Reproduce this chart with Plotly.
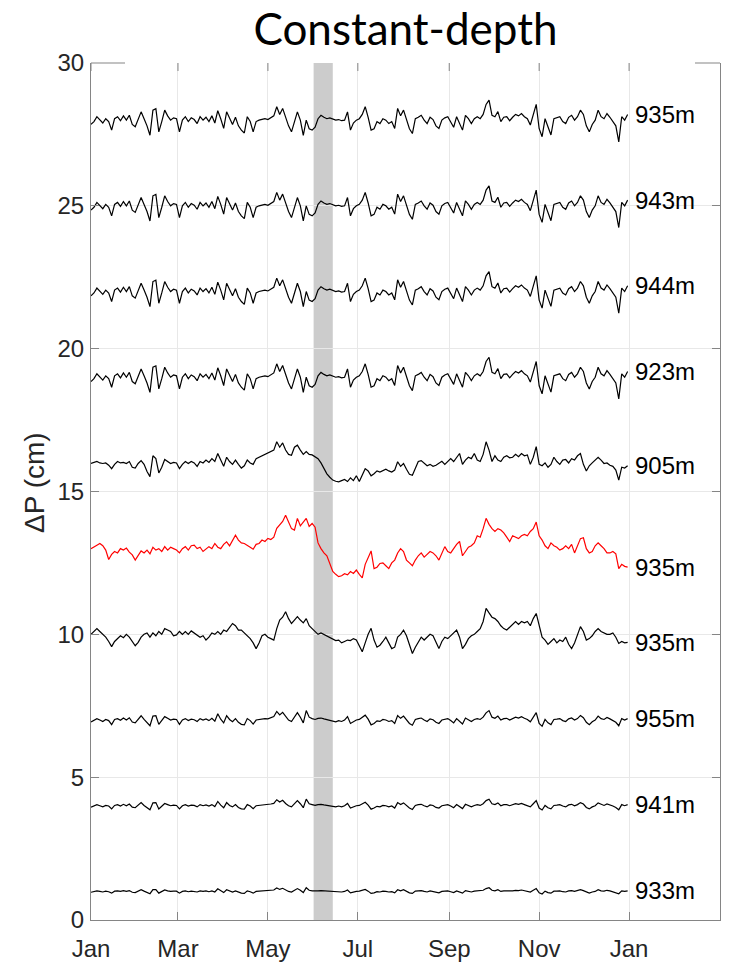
import datetime as dt
import plotly.graph_objects as go

# ---------------- data (deviations in cm, sampled every 2 days from 1 Jan) ----------------
station_labels = ["935m", "943m", "944m", "923m", "905m", "935m", "935m", "955m", "941m", "933m"]
offsets = [28, 25, 22, 19, 16, 13, 10, 7, 4, 1]

dev_935_top = [-0.15,-0.05,0.12,0.00,-0.10,0.05,-0.05,-0.35,0.05,0.12,
 -0.02,0.15,0.00,0.17,-0.15,-0.23,0.00,0.29,0.05,-0.20,
 -0.53,0.35,0.40,-0.41,-0.05,0.35,0.15,0.00,0.08,0.05,
 -0.41,0.00,0.12,-0.05,0.08,0.02,-0.12,0.12,0.00,0.10,
 -0.05,0.15,-0.10,0.33,0.05,-0.29,0.29,0.05,-0.15,0.10,
 -0.20,-0.35,-0.45,0.12,-0.05,-0.41,-0.05,0.00,0.02,0.05,
 0.02,0.08,0.15,0.47,0.20,0.41,0.10,-0.20,-0.41,-0.10,
 0.29,0.00,-0.53,0.00,-0.30,-0.35,-0.25,0.05,0.17,0.10,
 0.05,0.08,0.05,0.00,0.02,-0.02,0.00,0.29,-0.35,-0.10,
 0.00,0.05,0.20,0.47,0.10,-0.35,-0.30,-0.05,-0.12,0.05,
 0.00,-0.12,-0.05,-0.29,0.41,0.15,0.35,0.00,-0.30,-0.47,
 0.05,0.10,0.17,0.00,-0.12,0.10,0.02,-0.20,-0.29,0.00,
 0.08,0.12,-0.05,-0.25,0.12,-0.10,-0.35,0.17,0.05,-0.12,
 0.05,0.12,0.05,0.20,0.55,0.70,0.17,0.12,0.30,-0.05,
 0.10,0.12,-0.02,0.10,0.20,0.15,0.23,0.12,0.05,-0.17,
 0.20,0.55,-0.30,-0.58,0.05,-0.25,-0.52,0.05,0.08,0.12,
 -0.05,-0.12,0.10,0.17,0.00,0.12,0.35,0.20,-0.20,-0.41,
 -0.15,0.00,0.35,0.12,0.05,0.23,0.10,-0.05,-0.20,-0.76,
 0.12,0.00,0.20]

dev_943 = [-0.15,-0.05,0.12,0.00,-0.10,0.05,-0.05,-0.35,0.05,0.12,
 -0.02,0.15,0.00,0.17,-0.15,-0.23,0.00,0.29,0.05,-0.20,
 -0.53,0.35,0.40,-0.41,-0.05,0.35,0.15,0.00,0.08,0.05,
 -0.41,0.00,0.12,-0.05,0.08,0.02,-0.12,0.12,0.00,0.10,
 -0.05,0.15,-0.10,0.33,0.05,-0.29,0.29,0.05,-0.15,0.10,
 -0.20,-0.35,-0.45,0.12,-0.05,-0.41,-0.05,0.00,0.02,0.05,
 0.02,0.08,0.15,0.47,0.20,0.41,0.10,-0.20,-0.41,-0.10,
 0.29,0.00,-0.53,0.00,-0.30,-0.35,-0.25,0.05,0.17,0.10,
 0.05,0.08,0.05,0.00,0.02,-0.02,0.00,0.29,-0.35,-0.10,
 0.00,0.05,0.20,0.47,0.10,-0.35,-0.30,-0.05,-0.12,0.05,
 0.00,-0.12,-0.05,-0.29,0.41,0.15,0.35,0.00,-0.30,-0.47,
 0.05,0.10,0.17,0.00,-0.12,0.10,0.02,-0.20,-0.29,0.00,
 0.08,0.12,-0.05,-0.25,0.12,-0.10,-0.35,0.17,0.05,-0.12,
 0.05,0.12,0.05,0.20,0.55,0.70,0.17,0.12,0.30,-0.05,
 0.10,0.12,-0.02,0.10,0.20,0.15,0.23,0.12,0.05,-0.17,
 0.20,0.55,-0.30,-0.58,0.05,-0.25,-0.52,0.05,0.08,0.12,
 -0.05,-0.12,0.10,0.17,0.00,0.12,0.35,0.20,-0.20,-0.41,
 -0.15,0.00,0.35,0.12,0.05,0.23,0.10,-0.05,-0.20,-0.76,
 0.12,0.00,0.20]

dev_944 = [-0.15,-0.05,0.12,0.00,-0.10,0.05,-0.05,-0.35,0.05,0.12,
 -0.02,0.15,0.00,0.17,-0.15,-0.23,0.00,0.29,0.05,-0.20,
 -0.53,0.35,0.40,-0.41,-0.05,0.35,0.15,0.00,0.08,0.05,
 -0.41,0.00,0.12,-0.05,0.08,0.02,-0.12,0.12,0.00,0.10,
 -0.05,0.15,-0.10,0.33,0.05,-0.29,0.29,0.05,-0.15,0.10,
 -0.20,-0.35,-0.45,0.12,-0.05,-0.41,-0.05,0.00,0.02,0.05,
 0.02,0.08,0.15,0.47,0.20,0.41,0.10,-0.20,-0.41,-0.10,
 0.29,0.00,-0.53,0.00,-0.30,-0.35,-0.25,0.05,0.17,0.10,
 0.05,0.08,0.05,0.00,0.02,-0.02,0.00,0.29,-0.35,-0.10,
 0.00,0.05,0.20,0.47,0.10,-0.35,-0.30,-0.05,-0.12,0.05,
 0.00,-0.12,-0.05,-0.29,0.41,0.15,0.35,0.00,-0.30,-0.47,
 0.05,0.10,0.17,0.00,-0.12,0.10,0.02,-0.20,-0.29,0.00,
 0.08,0.12,-0.05,-0.25,0.12,-0.10,-0.35,0.17,0.05,-0.12,
 0.05,0.12,0.05,0.20,0.55,0.70,0.17,0.12,0.30,-0.05,
 0.10,0.12,-0.02,0.10,0.20,0.15,0.23,0.12,0.05,-0.17,
 0.20,0.55,-0.30,-0.58,0.05,-0.25,-0.52,0.05,0.08,0.12,
 -0.05,-0.12,0.10,0.17,0.00,0.12,0.35,0.20,-0.20,-0.41,
 -0.15,0.00,0.35,0.12,0.05,0.23,0.10,-0.05,-0.20,-0.76,
 0.12,0.00,0.20]

dev_923 = [-0.15,-0.05,0.12,0.00,-0.10,0.05,-0.05,-0.35,0.05,0.12,
 -0.02,0.15,0.00,0.17,-0.15,-0.23,0.00,0.29,0.05,-0.20,
 -0.53,0.35,0.40,-0.41,-0.05,0.35,0.15,0.00,0.08,0.05,
 -0.41,0.00,0.12,-0.05,0.08,0.02,-0.12,0.12,0.00,0.10,
 -0.05,0.15,-0.10,0.33,0.05,-0.29,0.29,0.05,-0.15,0.10,
 -0.20,-0.35,-0.45,0.12,-0.05,-0.41,-0.05,0.00,0.02,0.05,
 0.02,0.08,0.15,0.47,0.20,0.41,0.10,-0.20,-0.41,-0.10,
 0.29,0.00,-0.53,0.00,-0.30,-0.35,-0.25,0.05,0.17,0.10,
 0.05,0.08,0.05,0.00,0.02,-0.02,0.00,0.29,-0.35,-0.10,
 0.00,0.05,0.20,0.47,0.10,-0.35,-0.30,-0.05,-0.12,0.05,
 0.00,-0.12,-0.05,-0.29,0.41,0.15,0.35,0.00,-0.30,-0.47,
 0.05,0.10,0.17,0.00,-0.12,0.10,0.02,-0.20,-0.29,0.00,
 0.08,0.12,-0.05,-0.25,0.12,-0.10,-0.35,0.17,0.05,-0.12,
 0.05,0.12,0.05,0.20,0.55,0.70,0.17,0.12,0.30,-0.05,
 0.10,0.12,-0.02,0.10,0.20,0.15,0.23,0.12,0.05,-0.17,
 0.20,0.55,-0.30,-0.58,0.05,-0.25,-0.52,0.05,0.08,0.12,
 -0.05,-0.12,0.10,0.17,0.00,0.12,0.35,0.20,-0.20,-0.41,
 -0.15,0.00,0.35,0.12,0.05,0.23,0.10,-0.05,-0.20,-0.76,
 0.12,0.00,0.20]

dev_905 = [-0.02,0.02,0.05,0.0,-0.02,0.0,-0.08,-0.2,-0.05,0.05,
 0.0,0.02,-0.02,0.05,-0.15,-0.18,-0.02,0.08,-0.05,-0.3,
 -0.48,0.25,0.15,-0.35,-0.15,0.12,0.05,-0.02,0.02,0.0,
 -0.2,-0.05,0.05,-0.02,0.05,0.0,-0.12,0.05,0.0,0.1,
 0.02,0.15,0.05,0.33,0.1,-0.12,0.2,0.05,-0.05,0.1,
 -0.05,-0.18,-0.1,0.1,0.0,-0.05,0.15,0.2,0.25,0.3,
 0.35,0.4,0.45,0.74,0.55,0.7,0.45,0.3,0.27,0.55,
 0.62,0.45,0.3,0.4,0.3,0.28,0.2,0.15,0.0,-0.2,
 -0.38,-0.5,-0.6,-0.64,-0.66,-0.62,-0.58,-0.65,-0.52,-0.62,
 -0.45,-0.65,-0.45,-0.2,-0.28,-0.45,-0.38,-0.28,-0.32,-0.28,
 -0.22,-0.28,-0.32,-0.25,0.04,-0.12,-0.02,-0.22,-0.4,-0.43,
 -0.2,0.05,0.08,-0.02,-0.1,-0.05,-0.12,-0.08,0.0,0.06,
 -0.05,0.05,0.15,0.05,0.2,0.33,-0.05,0.1,0.2,0.15,
 0.33,0.1,0.05,0.3,0.74,0.45,0.05,0.25,0.1,0.05,
 0.2,0.25,0.18,0.2,0.3,0.22,0.33,0.25,0.28,-0.05,
 0.2,0.57,-0.05,-0.1,0.0,-0.15,-0.05,0.2,0.05,-0.05,
 0.1,0.12,0.0,0.15,0.1,0.25,0.33,-0.05,-0.28,-0.1,
 0.0,0.1,0.2,0.1,-0.02,0.0,-0.08,-0.12,-0.25,-0.6,
 -0.15,-0.18,-0.1]

dev_935_red = [0.0,0.05,0.12,0.18,0.1,-0.05,-0.38,-0.2,-0.1,-0.15,
 0.0,-0.05,0.02,-0.12,-0.22,-0.4,-0.25,-0.08,-0.15,-0.05,
 -0.18,0.05,-0.05,0.0,-0.1,0.07,-0.05,0.05,0.0,-0.05,
 -0.15,0.0,0.07,-0.05,0.1,0.12,0.0,0.05,-0.1,0.0,
 0.07,0.0,0.18,0.05,0.0,0.15,0.24,0.1,0.3,0.47,
 0.3,0.2,0.18,0.1,0.05,-0.02,0.15,0.18,0.3,0.25,
 0.36,0.32,0.4,0.71,0.85,0.95,1.17,0.9,0.7,0.65,
 1.06,0.8,0.95,1.06,0.78,0.88,0.75,0.2,0.0,-0.15,
 -0.25,-0.55,-0.8,-0.9,-0.98,-0.95,-0.88,-0.92,-0.8,-0.87,
 -0.75,-0.9,-1.02,-0.55,-0.3,-0.08,-0.7,-0.65,-0.52,-0.5,
 -0.6,-0.7,-0.5,-0.4,-0.15,0.0,-0.1,-0.4,-0.5,-0.6,
 -0.4,-0.25,-0.15,-0.3,-0.2,-0.1,-0.15,-0.25,-0.4,-0.15,
 0.07,-0.1,-0.15,0.0,0.15,0.25,-0.25,-0.1,0.05,0.1,
 0.2,0.45,0.4,0.7,1.06,0.85,0.7,0.6,0.7,0.65,
 0.55,0.4,0.25,0.45,0.4,0.35,0.45,0.5,0.45,0.6,
 0.7,0.93,0.45,0.3,0.1,0.0,0.2,0.1,0.05,-0.05,
 0.0,0.1,0.0,0.15,-0.15,0.1,0.35,0.38,0.0,-0.15,
 -0.1,0.1,0.2,0.1,0.0,-0.15,-0.15,-0.1,-0.18,-0.7,
 -0.55,-0.62,-0.65]

dev_935_black = [0.0,0.1,0.2,0.1,0.0,-0.1,-0.25,-0.43,-0.25,-0.15,
 -0.05,-0.12,0.0,-0.1,-0.25,-0.4,-0.28,-0.1,0.0,0.05,
 -0.1,0.05,-0.05,0.1,0.0,0.2,0.15,0.1,-0.05,-0.02,
 0.1,0.0,0.1,0.0,0.12,0.05,0.0,-0.1,-0.05,-0.2,
 -0.1,0.05,0.0,0.1,0.0,0.15,0.1,0.25,0.38,0.3,
 0.15,0.15,0.05,-0.05,-0.15,-0.3,-0.5,-0.3,-0.05,0.0,
 -0.1,-0.15,-0.2,0.2,0.5,0.6,0.79,0.55,0.38,0.5,
 0.62,0.5,0.4,0.55,0.3,0.2,0.1,0.0,0.05,0.0,
 -0.05,-0.1,-0.15,-0.22,-0.2,-0.3,-0.25,-0.2,-0.22,-0.15,
 -0.2,-0.4,-0.61,-0.3,0.0,0.21,-0.2,-0.45,-0.38,-0.25,
 -0.1,-0.3,-0.5,-0.45,-0.1,0.0,0.15,-0.05,-0.4,-0.67,
 -0.45,-0.25,-0.1,-0.2,-0.1,0.0,-0.05,-0.25,-0.5,-0.25,
 -0.1,-0.15,-0.05,0.05,0.15,-0.1,-0.5,-0.35,-0.15,-0.05,
 0.0,0.1,0.2,0.45,0.91,0.75,0.6,0.55,0.45,0.3,
 0.2,0.15,0.25,0.35,0.45,0.35,0.45,0.4,0.45,0.3,
 0.55,0.73,0.3,-0.1,-0.2,-0.35,-0.25,-0.15,-0.3,-0.2,
 -0.25,-0.1,-0.35,-0.5,-0.3,0.0,0.27,0.1,-0.2,-0.15,
 -0.05,0.1,0.2,0.1,0.05,0.0,0.0,0.05,-0.1,-0.32,
 -0.25,-0.3,-0.28]

dev_955 = [-0.07,-0.02,0.05,0.00,-0.05,0.02,-0.02,-0.16,0.02,0.05,
 -0.01,0.07,0.00,0.08,-0.07,-0.10,0.02,0.15,0.02,-0.09,
 -0.20,0.14,0.15,-0.15,0.00,0.12,0.06,0.00,0.03,0.02,
 -0.15,0.00,0.05,-0.02,0.03,0.01,-0.05,0.05,0.00,0.04,
 -0.02,0.06,-0.04,0.22,0.03,-0.10,0.15,0.02,-0.06,0.05,
 -0.08,-0.15,-0.17,0.05,-0.02,-0.14,0.00,0.02,0.03,0.05,
 0.04,0.08,0.12,0.30,0.18,0.27,0.12,0.00,-0.05,0.12,
 0.26,0.10,-0.10,0.33,0.10,0.05,0.02,0.06,0.07,0.04,
 0.02,0.00,-0.03,-0.06,-0.02,-0.05,0.00,0.12,-0.12,-0.05,
 0.00,0.02,0.08,0.17,0.03,-0.17,-0.12,-0.03,-0.05,0.02,
 0.00,-0.05,-0.02,-0.12,0.16,0.06,0.14,0.00,-0.12,-0.18,
 0.02,0.05,0.07,0.00,-0.05,0.04,0.01,-0.08,-0.12,0.00,
 0.03,0.05,-0.02,-0.10,0.05,-0.04,-0.14,0.07,0.02,-0.05,
 0.02,0.05,0.02,0.10,0.25,0.33,0.10,0.06,0.14,0.00,
 0.05,0.06,0.00,0.05,0.10,0.07,0.12,0.06,0.02,-0.06,
 0.10,0.26,-0.12,-0.22,0.02,-0.10,-0.16,0.02,0.03,0.05,
 -0.02,-0.05,0.04,0.07,0.00,0.05,0.16,0.08,-0.08,-0.16,
 -0.06,0.00,0.14,0.05,0.02,0.09,0.04,-0.02,-0.08,-0.20,
 0.05,0.00,0.05]

dev_941 = [-0.05,-0.01,0.04,0.00,-0.04,0.01,-0.01,-0.11,0.01,0.04,
 -0.01,0.05,0.00,0.06,-0.05,-0.07,0.01,0.11,0.01,-0.06,
 -0.14,0.10,0.11,-0.11,0.00,0.08,0.04,0.00,0.02,0.01,
 -0.11,0.00,0.04,-0.01,0.02,0.01,-0.04,0.04,0.00,0.03,
 -0.01,0.04,-0.03,0.15,0.02,-0.07,0.11,0.01,-0.04,0.04,
 -0.06,-0.11,-0.12,0.04,-0.01,-0.10,0.00,0.01,0.02,0.04,
 0.03,0.06,0.08,0.21,0.13,0.19,0.08,0.00,-0.04,0.08,
 0.18,0.07,-0.07,0.23,0.07,0.04,0.01,0.04,0.05,0.03,
 0.01,0.00,-0.02,-0.04,-0.01,-0.04,0.00,0.08,-0.08,-0.04,
 0.00,0.01,0.06,0.12,0.02,-0.12,-0.08,-0.02,-0.04,0.01,
 0.00,-0.04,-0.01,-0.08,0.11,0.04,0.10,0.00,-0.08,-0.13,
 0.01,0.04,0.05,0.00,-0.04,0.03,0.01,-0.06,-0.08,0.00,
 0.02,0.04,-0.01,-0.07,0.04,-0.03,-0.10,0.05,0.01,-0.04,
 0.01,0.04,0.01,0.07,0.18,0.23,0.07,0.04,0.10,0.00,
 0.04,0.04,0.00,0.04,0.07,0.05,0.08,0.04,0.01,-0.04,
 0.07,0.18,-0.08,-0.15,0.01,-0.07,-0.11,0.01,0.02,0.04,
 -0.01,-0.04,0.03,0.05,0.00,0.04,0.11,0.06,-0.06,-0.11,
 -0.04,0.00,0.10,0.04,0.01,0.06,0.03,-0.01,-0.06,-0.14,
 0.04,0.00,0.04]

dev_933 = [-0.03,-0.01,0.02,0.00,-0.02,0.01,-0.01,-0.06,0.01,0.02,
 0.00,0.03,0.00,0.03,-0.03,-0.04,0.01,0.06,0.01,-0.04,
 -0.08,0.06,0.06,-0.06,0.00,0.05,0.02,0.00,0.01,0.01,
 -0.06,0.00,0.02,-0.01,0.01,0.00,-0.02,0.02,0.00,0.02,
 -0.01,0.02,-0.02,0.09,0.01,-0.04,0.06,0.01,-0.02,0.02,
 -0.03,-0.06,-0.07,0.02,-0.01,-0.06,0.00,0.01,0.01,0.02,
 0.02,0.03,0.05,0.12,0.07,0.11,0.05,0.00,-0.02,0.05,
 0.10,0.04,-0.04,0.13,0.04,0.02,0.01,0.02,0.03,0.02,
 0.01,0.00,-0.01,-0.02,-0.01,-0.02,0.00,0.05,-0.05,-0.02,
 0.00,0.01,0.03,0.07,0.01,-0.07,-0.05,-0.01,-0.02,0.01,
 0.00,-0.02,-0.01,-0.05,0.06,0.02,0.06,0.00,-0.05,-0.07,
 0.01,0.02,0.03,0.00,-0.02,0.02,0.00,-0.03,-0.05,0.00,
 0.01,0.02,-0.01,-0.04,0.02,-0.02,-0.06,0.03,0.01,-0.02,
 0.01,0.02,0.01,0.04,0.10,0.13,0.04,0.02,0.06,0.00,
 0.02,0.02,0.00,0.02,0.04,0.03,0.05,0.02,0.01,-0.02,
 0.04,0.10,-0.05,-0.09,0.01,-0.04,-0.06,0.01,0.01,0.02,
 -0.01,-0.02,0.02,0.03,0.00,0.02,0.06,0.03,-0.03,-0.06,
 -0.02,0.00,0.06,0.02,0.01,0.04,0.02,-0.01,-0.03,-0.08,
 0.02,0.00,0.02]

series_devs = [dev_935_top, dev_943, dev_944, dev_923, dev_905,
               dev_935_red, dev_935_black, dev_955, dev_941, dev_933]

start_date = dt.datetime(2015, 1, 1)
step_days = 2

tick_dates = ["2015-01-01", "2015-03-01", "2015-05-01", "2015-07-01",
              "2015-09-01", "2015-11-01", "2016-01-01"]
tick_labels = ["Jan", "Mar", "May", "Jul", "Sep", "Nov", "Jan"]
y_ticks = [0, 5, 10, 15, 20, 25, 30]

band_start = "2015-06-01"
band_end = "2015-06-14"

# ---------------- styles ----------------
line_colors = ["black"] * 5 + ["#ff0000"] + ["black"] * 4
axis_color = "#858585"
grid_color = "#e8e8e8"
label_font = "Liberation Sans, Arial, Helvetica, sans-serif"

fig = go.Figure()

for dev, off, lab, col in zip(series_devs, offsets, station_labels, line_colors):
    xs = [start_date + dt.timedelta(days=step_days * i) for i in range(len(dev))]
    ys = [off + v for v in dev]
    fig.add_trace(go.Scatter(x=xs, y=ys, mode="lines",
                             line=dict(color=col, width=1.2),
                             showlegend=False, hoverinfo="skip"))
    fig.add_annotation(x=xs[-1], y=ys[-1], text=lab, showarrow=False,
                       xanchor="left", yanchor="middle", xshift=5,
                       font=dict(family=label_font, size=24, color="black"))

# shaded band
fig.add_shape(type="rect", xref="x", yref="paper", x0=band_start, x1=band_end,
              y0=0, y1=1, fillcolor="#cccccc", line=dict(width=0), layer="between")

# top-edge tick marks and corner segments (box partially hidden at top)
plot_h = 965 - 63 - 45
for td in tick_dates:
    fig.add_shape(type="line", xref="x", yref="paper", x0=td, x1=td,
                  y0=1, y1=1 - 8 / plot_h, line=dict(color=axis_color, width=1))
fig.add_shape(type="line", xref="paper", yref="paper", x0=0, x1=34 / 629, y0=1, y1=1,
              line=dict(color=axis_color, width=1))
fig.add_shape(type="line", xref="paper", yref="paper", x0=604 / 629, x1=1, y0=1, y1=1,
              line=dict(color=axis_color, width=1))

# y-axis title
fig.add_annotation(xref="paper", yref="paper", x=(35 - 91) / 629, y=0.51,
                   text="ΔP (cm)", textangle=-90, showarrow=False,
                   xanchor="center", yanchor="middle",
                   font=dict(family=label_font, size=28, color="#262626"))

fig.update_layout(
    width=730, height=965,
    margin=dict(l=91, r=10, t=63, b=45),
    paper_bgcolor="white", plot_bgcolor="white",
    title=dict(text="Constant-depth", x=0.5, xref="paper", xanchor="center",
               y=1 - 30 / 965, yref="container", yanchor="middle",
               font=dict(family="Lato, Carlito, Open Sans, sans-serif", size=44, color="black")),
    xaxis=dict(type="date", automargin=False,
               range=["2015-01-01", "2016-03-02 16:00"],
               tickmode="array", tickvals=tick_dates, ticktext=tick_labels,
               ticks="inside", ticklen=8, tickcolor=axis_color, tickwidth=1,
               showline=True, linecolor=axis_color, linewidth=1, mirror=False,
               showgrid=True, gridcolor=grid_color, gridwidth=1, zeroline=False,
               ticklabelstandoff=7,
               tickfont=dict(family=label_font, size=24, color="#262626")),
    yaxis=dict(range=[0, 30], tickmode="array", tickvals=y_ticks, automargin=False,
               ticks="inside", ticklen=8, tickcolor=axis_color, tickwidth=1,
               showline=True, linecolor=axis_color, linewidth=1, mirror="ticks",
               showgrid=True, gridcolor=grid_color, gridwidth=1, zeroline=False,
               ticklabelstandoff=1,
               tickfont=dict(family=label_font, size=24, color="#262626")),
)

fig.write_html("out.html")
